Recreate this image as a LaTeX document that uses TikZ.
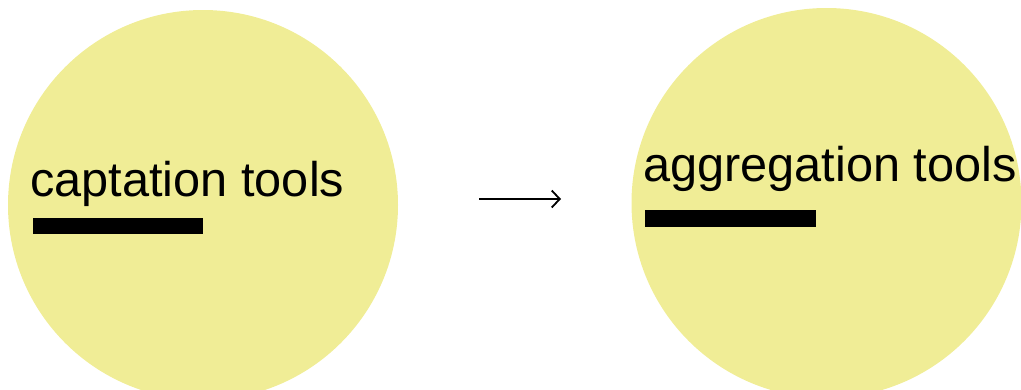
\documentclass[tikz,border=0pt]{standalone}
\usepackage{fontspec}
\setmainfont{Liberation Sans}
\usetikzlibrary{arrows.meta}
\definecolor{blob}{RGB}{240,237,150}
\begin{document}
\begin{tikzpicture}[x=1pt,y=-1pt,
  blobnode/.style={circle,fill=blob,draw=none,minimum size=390pt,inner sep=0pt},
  label/.style={anchor=base west,inner sep=0pt,font=\fontsize{48.7}{56}\selectfont},
  bar/.style={fill=black,draw=none}]
\useasboundingbox (0,0) rectangle (1021,389);
\node[blobnode] (left) at (203,205) {};
\node[blobnode] (right) at (826.5,203) {};
\node[label] (ltext) at (30,196) {captation tools};
\node[label] (rtext) at (643,181) {aggregation tools};
\fill[bar] (33,218) rectangle (203,234);
\fill[bar] (645,210) rectangle (816,227);
\coordinate (as) at (479,199);
\coordinate (ae) at (561,199);
\draw[line width=1.8pt,-{Straight Barb[length=8pt,width=17pt,line width=1.8pt]}] (as) -- (ae);
\end{tikzpicture}
\end{document}
